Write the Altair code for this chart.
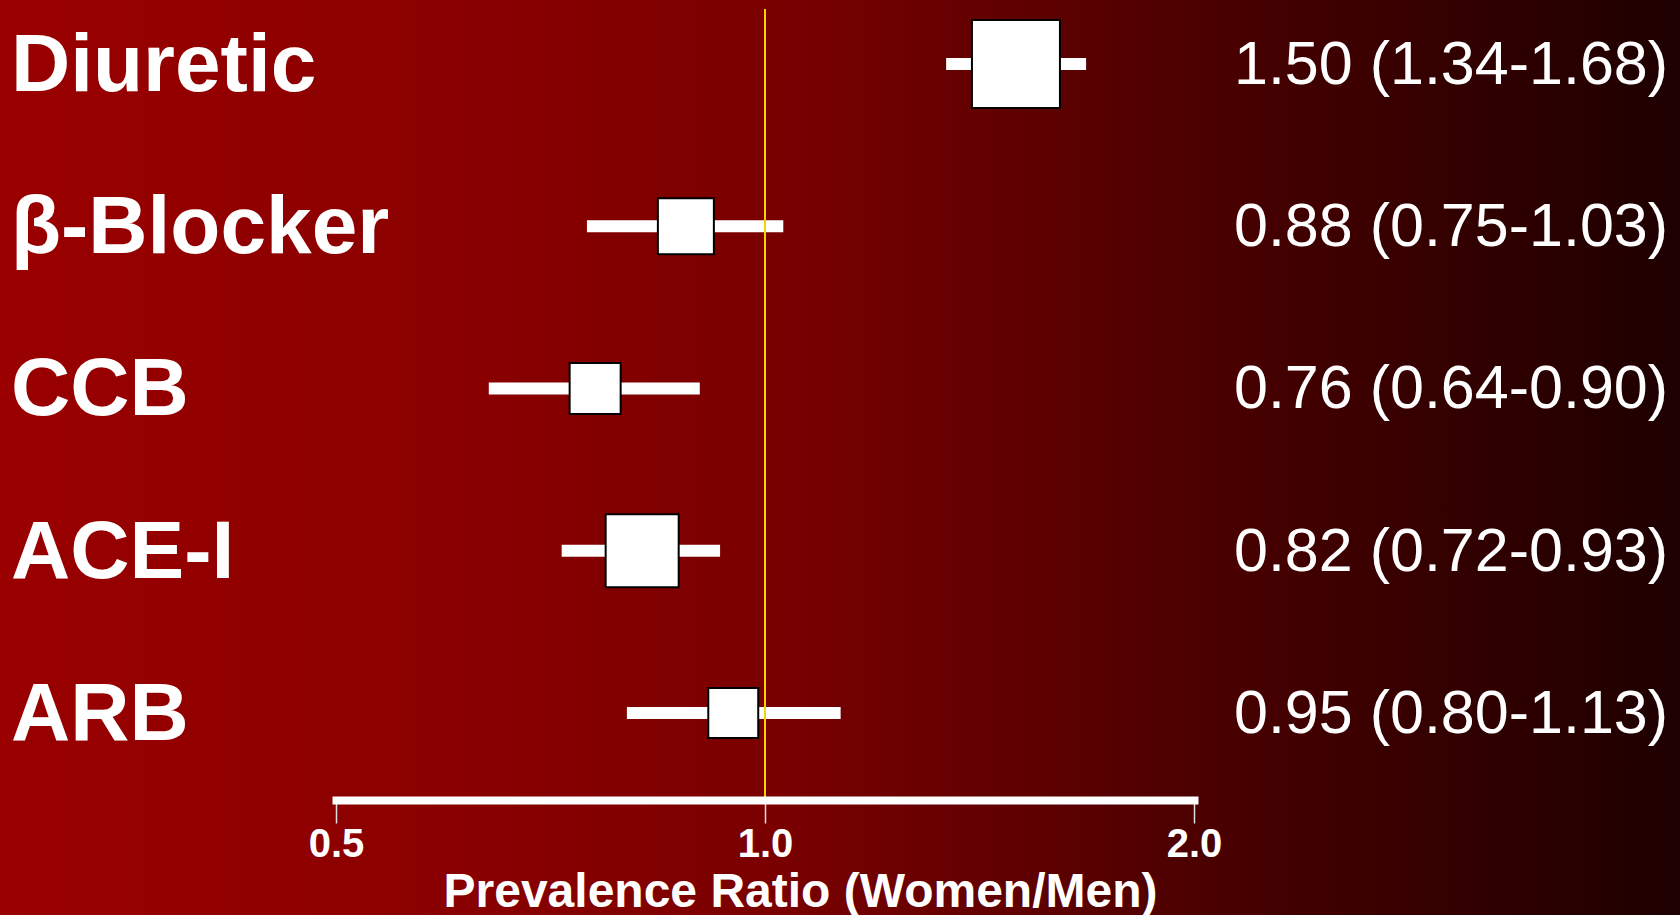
import altair as alt
import pandas as pd

# Antihypertensive drug classes: prevalence ratio (women vs. men) with 95% CI
drugs = ["Diuretic", "β-Blocker", "CCB", "ACE-I", "ARB"]
ratio = [1.50, 0.88, 0.76, 0.82, 0.95]
ci_low = [1.34, 0.75, 0.64, 0.72, 0.80]
ci_high = [1.68, 1.03, 0.90, 0.93, 1.13]
weight = [36.3, 14.7, 12.2, 25.0, 11.7]  # relative weight (box area)
tick_values = [0.5, 1.0, 2.0]

df = pd.DataFrame({
    "drug": drugs,
    "ratio": ratio,
    "lo": ci_low,
    "hi": ci_high,
    "weight": weight,
})
df["label"] = [f"{r:.2f} ({l:.2f}-{h:.2f})" for r, l, h in zip(ratio, ci_low, ci_high)]

W, H = 858, 791
PAD = {"left": 336, "top": 9, "right": 486, "bottom": 115}

y_enc = alt.Y("drug:N", sort=drugs, axis=None,
              scale=alt.Scale(type="point", padding=0.4375, align=0.387))

gradient = alt.Gradient(
    gradient="linear", x1=0, x2=1, y1=0, y2=0,
    stops=[
        alt.GradientStop(color="#9a0000", offset=0.0),
        alt.GradientStop(color="#880000", offset=0.30),
        alt.GradientStop(color="#7a0000", offset=0.46),
        alt.GradientStop(color="#6a0000", offset=0.55),
        alt.GradientStop(color="#450000", offset=0.75),
        alt.GradientStop(color="#1e0000", offset=1.0),
    ],
)

bg = alt.Chart(pd.DataFrame({"a": [0]})).mark_rect(fill=gradient).encode(
    x=alt.value(-PAD["left"]), x2=alt.value(W + PAD["right"]),
    y=alt.value(-PAD["top"]), y2=alt.value(H + PAD["bottom"]),
)

x_scale = alt.Scale(type="log", domain=[0.5, 2.0])
x_axis = alt.Axis(
    values=tick_values, format=".1f", title="Prevalence Ratio (Women/Men)",
    domainColor="white", domainWidth=8, domainCap="square",
    tickColor="#dddddd", tickWidth=1.5, tickSize=23,
    labelColor="white", labelFont="Liberation Sans", labelFontWeight="bold",
    labelFontSize=40, labelPadding=1, labelFlush=False,
    titleColor="white", titleFont="Liberation Sans", titleFontWeight="bold",
    titleFontSize=48, titlePadding=4, titleX=W / 2 + 35, titleAnchor="middle",
    grid=False, zindex=1,
)

ci = alt.Chart(df).mark_rule(color="white", strokeWidth=12).encode(
    x=alt.X("lo:Q", scale=x_scale, axis=x_axis),
    x2="hi:Q",
    y=y_enc,
)

ref = alt.Chart(pd.DataFrame({"v": [1.0]})).mark_rule(
    color="#f2d400", strokeWidth=2
).encode(x=alt.X("v:Q", scale=x_scale))

boxes = alt.Chart(df).mark_square(
    fill="white", stroke="black", strokeWidth=2, opacity=1
).encode(
    x=alt.X("ratio:Q", scale=x_scale),
    y=y_enc,
    size=alt.Size("weight:Q", legend=None,
                  scale=alt.Scale(type="linear", domain=[0, 36.3], range=[0, 7744])),
)

names = alt.Chart(df).mark_text(
    align="left", baseline="middle", font="Liberation Sans", fontWeight="bold",
    fontSize=82, color="white", dy=2,
).encode(x=alt.value(-325), y=y_enc, text="drug:N")

values = alt.Chart(df).mark_text(
    align="left", baseline="middle", font="Liberation Sans",
    fontSize=61, color="white", dy=2,
).encode(x=alt.value(898), y=y_enc, text="label:N")

chart = alt.layer(bg, ci, ref, boxes, names, values).properties(
    width=W, height=H, padding=PAD, autosize="none", background="#1e0000",
).configure_view(strokeWidth=0)

chart.save("out.html", embed_options={"renderer": "svg", "actions": False})
